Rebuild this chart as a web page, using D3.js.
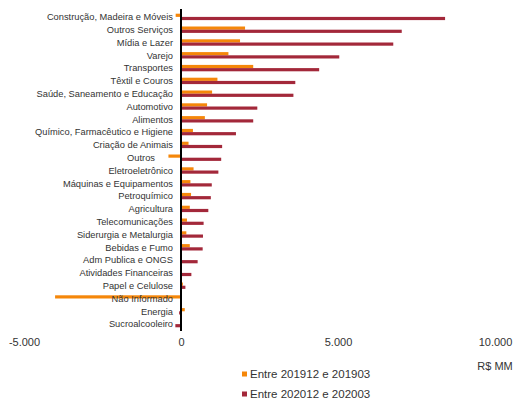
<!DOCTYPE html>
<html>
<head>
<meta charset="utf-8">
<script src="https://cdn.jsdelivr.net/npm/d3@7"></script>
<style>
  html, body { margin: 0; padding: 0; background: #fff; }
  svg { display: block; }
  text { font-family: "Liberation Sans", Arial, sans-serif; }
</style>
</head>
<body>
<div id="chart"></div>
<script>
// Sector categories, top to bottom
const categories = [
  "Construção, Madeira e Móveis", "Outros Serviços", "Mídia e Lazer", "Varejo",
  "Transportes", "Têxtil e Couros", "Saúde, Saneamento e Educação", "Automotivo",
  "Alimentos", "Químico, Farmacêutico e Higiene", "Criação de Animais", "Outros",
  "Eletroeletrônico", "Máquinas e Equipamentos", "Petroquímico", "Agricultura",
  "Telecomunicações", "Siderurgia e Metalurgia", "Bebidas e Fumo", "Adm Publica e ONGS",
  "Atividades Financeiras", "Papel e Celulose", "Não Informado", "Energia", "Sucroalcooleiro"
];

// Variation in R$ MM, period 201912 vs 201903
const serie2019 = [
  -170, 2040, 1880, 1510, 2300, 1160, 990, 830, 760, 380, 240, -400,
  400, 300, 320, 280, 190, 170, 280, 0, 0, 60, -4010, 120, 0
];

// Variation in R$ MM, period 202012 vs 202003
const serie2020 = [
  8410, 7030, 6760, 5040, 4400, 3640, 3580, 2430, 2300, 1750, 1310, 1280,
  1190, 980, 950, 870, 720, 700, 690, 530, 330, 140, 0, -60, -180
];

const seriesNames = ["Entre 201912 e 201903", "Entre 202012 e 202003"];
const seriesColors = ["#F5870A", "#A3283A"];

const xTicks = [-5000, 0, 5000, 10000];
const unitLabel = "R$ MM";

const W = 517, H = 403;
const svg = d3.select("#chart").append("svg").attr("width", W).attr("height", H);

const x = d3.scaleLinear().domain([-5000, 10000]).range([24, 495]);
const y = d3.scaleBand().domain(categories).range([10.5, 330.5]).paddingInner(0.5).paddingOuter(0.25);
const sub = d3.scaleBand().domain([0, 1]).range([0, y.bandwidth()]);

const rows = categories.map((c, i) => ({ c, v: [serie2019[i], serie2020[i]] }));

const g = svg.append("g");
rows.forEach(r => {
  r.v.forEach((v, k) => {
    g.append("rect")
      .attr("x", x(Math.min(0, v)))
      .attr("y", y(r.c) + sub(k))
      .attr("width", Math.abs(x(v) - x(0)))
      .attr("height", sub.bandwidth())
      .attr("fill", seriesColors[k]);
  });
});

// Category labels, right-aligned next to the zero line
svg.append("g").selectAll("text").data(categories).join("text")
  .attr("x", 173)
  .attr("dx", d => d === "Outros" ? -18 : 0)
  .attr("y", d => y(d) + y.bandwidth() / 2)
  .attr("dy", "0.35em")
  .attr("text-anchor", "end")
  .attr("font-size", 9.3)
  .attr("fill", "#333")
  .text(d => d);

// Zero line
svg.append("line")
  .attr("x1", x(0)).attr("x2", x(0))
  .attr("y1", 9).attr("y2", 331)
  .attr("stroke", "#000").attr("stroke-width", 2);

// Value axis (labels only)
const fmt = d3.formatLocale({ decimal: ",", thousands: ".", grouping: [3], currency: ["R$", ""], minus: "-" }).format(",d");
const axis = d3.axisBottom(x).tickValues(xTicks).tickFormat(fmt).tickSize(0).tickPadding(0);
const ax = svg.append("g").attr("transform", "translate(0,338)").call(axis);
ax.select(".domain").remove();
ax.selectAll("text").attr("font-size", 11).attr("fill", "#333")
  .attr("font-family", "'Liberation Sans', Arial, sans-serif");

svg.append("text")
  .attr("x", x(10000)).attr("y", 370)
  .attr("text-anchor", "middle")
  .attr("font-size", 11).attr("fill", "#333")
  .text(unitLabel);

// Legend
const leg = svg.append("g");
seriesNames.forEach((n, k) => {
  const ly = 374 + k * 20;
  leg.append("rect").attr("x", 242).attr("y", ly - 2.5).attr("width", 5).attr("height", 5).attr("fill", seriesColors[k]);
  leg.append("text").attr("x", 250).attr("y", ly).attr("dy", "0.35em")
    .attr("font-size", 11.5).attr("fill", "#333").text(n);
});
</script>
</body>
</html>
